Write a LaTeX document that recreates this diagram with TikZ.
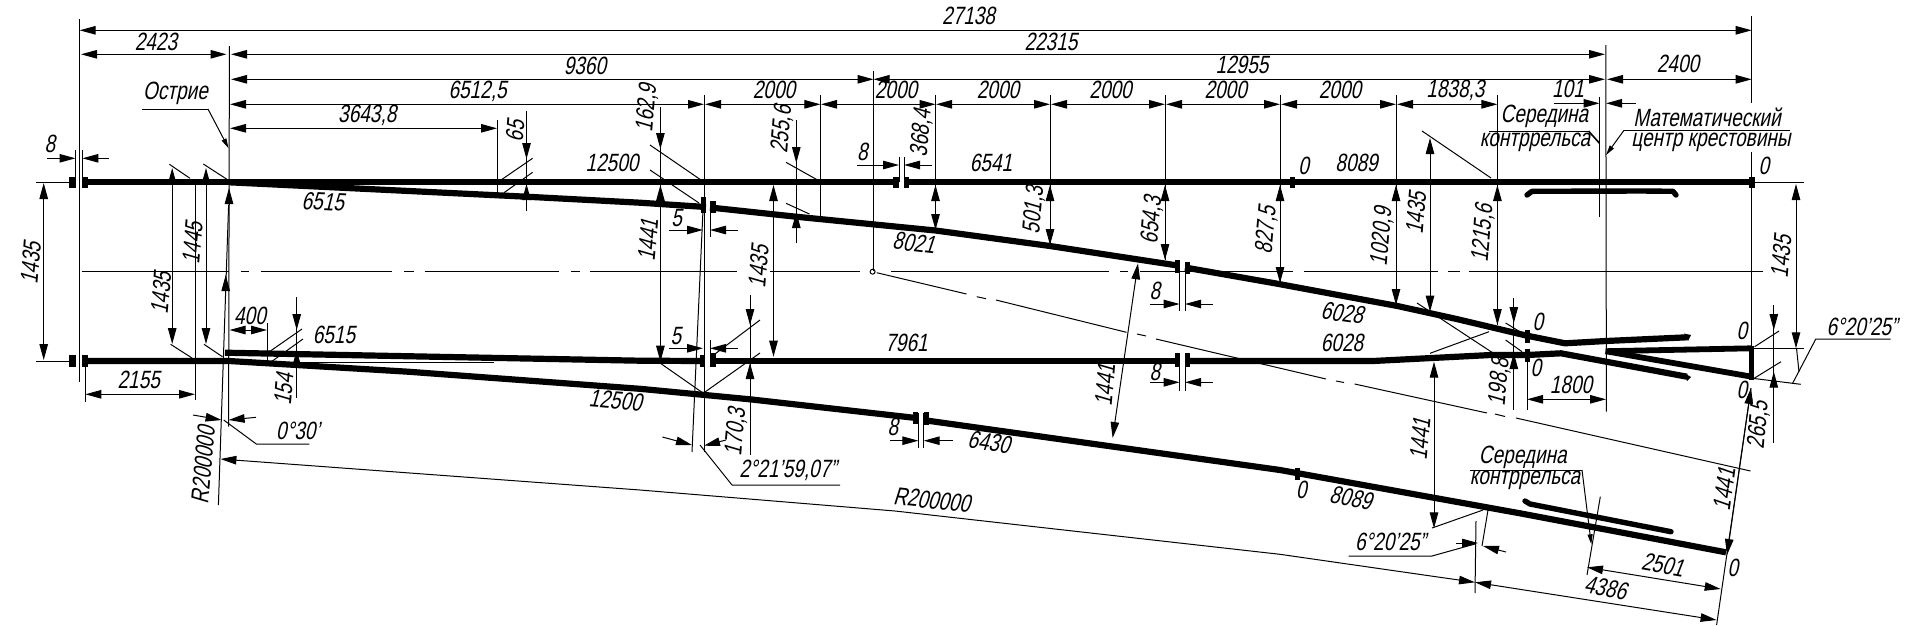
\documentclass[tikz,border=0pt]{standalone}
\usepackage{fontspec}
\setmainfont[FakeSlant=0.2,FakeStretch=0.76]{Liberation Sans}
\usetikzlibrary{arrows.meta}
\tikzset{
  thinl/.style={line width=1pt,black},
  dimb/.style={thinl,{Triangle[length=16pt,width=8.5pt]}-{Triangle[length=16pt,width=8.5pt]}},
  dimr/.style={thinl,-{Triangle[length=16pt,width=8.5pt]}},
  dimtip/.style={thinl,-{Triangle[length=10pt,width=5pt]}},
  rail/.style={line width=6.2pt,black,line join=round},
  guard/.style={line width=5.4pt,black,line join=round,line cap=round},
  lbl/.style={font=\fontsize{25}{27}\selectfont,inner sep=0pt,black},
}
\newcommand\T[4][0]{\node[lbl,rotate=#1] at (#2,#3) {#4};}
\newcommand\B[4]{\fill[black] (#1,#2) rectangle (#3,#4);}
\begin{document}
\begin{tikzpicture}[x=1pt,y=-1pt]
\fill[white] (0,0) rectangle (1915,625);
\useasboundingbox (0,0) rectangle (1915,625);
% ---------- rails
\draw[rail] (88,182.3) -- (899,182.3);
\draw[rail] (904,182.3) -- (1751.7,182.3);
\B{69.4}{176.7}{76}{188.3}\B{82.4}{176.7}{88}{188.3}
\B{893}{176.7}{899}{188.3}\B{904}{176.7}{909}{188.3}
\B{1289.5}{176.7}{1294.5}{188.3}\B{1749}{176.7}{1754.5}{188.3}
% upper diverging
\draw[rail] (229.4,182.3) -- (526.5,196.7) -- (640,202.7) -- (706,207);
\draw[rail] (710,207.5) -- (796,216.7) -- (935.5,230.5) -- (1050,246) -- (1179,265.7);
\draw[rail] (1185,267.5) -- (1275,283.3) -- (1397.4,306) -- (1456.6,319) -- (1527,335.7) -- (1565,343.3) -- (1606,341) -- (1687,337.3);
\fill[black] (1684,333.5) -- (1691,335) -- (1688,341) -- cycle;
\B{701}{197}{706}{213}\B{710}{201}{716}{213}
\B{1174.7}{260}{1179.6}{272.7}\B{1185}{261.7}{1190}{274}
\B{1524.5}{330}{1529.5}{343}
% straight branch
\draw[rail] (225,352.7) -- (640,360.7) -- (704,361);
\draw[rail] (710,361) -- (1179,361);
\draw[rail] (1185,361) -- (1373,361) -- (1491,355) -- (1527,355) -- (1561,353.3) -- (1687,376.7);
\fill[black] (1684,373) -- (1691,377) -- (1687,381) -- cycle;
\B{700.4}{355}{704.5}{367}\B{710}{353}{716}{367}
\B{1174.7}{353}{1179.6}{367}\B{1185}{353}{1190}{367}
\B{1524.5}{349}{1529.5}{362}
% lower rail
\draw[rail] (88,361) -- (229,361) -- (296.7,365) -- (408,371.7) -- (640,388.8) -- (750,399.3) -- (913.5,417.7);
\draw[rail] (927.8,420.7) -- (1280,470) -- (1520,513.3) -- (1726,552.3);
\B{69.4}{355}{76}{367}\B{82.4}{355}{88}{367}
\fill[black] (912.6,412) rectangle (918.4,424);\fill[black] (923.7,412) rectangle (928.6,425);
\B{1295}{468}{1300}{480}
\draw[thinl] (269,362) -- (494,362);
% frog
\draw[line width=5.8pt,black] (1605.6,351.2) -- (1751.7,348.3);
\draw[line width=5.8pt,black] (1605.6,351.2) -- (1751.7,376.7);
\draw[line width=4.6pt,black] (1751.7,345.5) -- (1751.7,379.5);
% guards
\draw[guard] (1527,195) -- (1532,191.3) -- (1642,191) -- (1673,191.3) -- (1676,195);
\draw[guard] (1525,501) -- (1530,504) -- (1671,531.7);
% ---------- centre lines
\foreach \a/\b in {81.6/229,241/249,261/392,404/414,424.5/559,571/580,590/737,770/860,891/1109,1120/1128,1140/1280,1283/1293,1303.6/1438,1448/1460,1469/1763}
  \draw[thinl] (\a,271) -- (\b,271);
\draw[thinl] (872.6,271.7) circle (2.5);
\draw[thinl] (873.5,71) -- (873.5,271);
\draw[thinl] (876.7,272.7) -- (966.5,294);
\draw[thinl] (976.7,296.7) -- (986,298.7);
\draw[thinl] (996,300) -- (1126.5,332.3);
\draw[thinl] (1137,334) -- (1146,336);
\draw[thinl] (1156,339) -- (1326,379);
\draw[thinl] (1336,381) -- (1344,382.5);
\draw[thinl] (1354.6,384) -- (1487,413);
\draw[thinl] (1495,414) -- (1505,416.5);
\draw[thinl] (1516,418) -- (1750.5,471);
% ---------- extension lines
\draw[thinl] (79.6,19) -- (79.6,382);
\draw[thinl] (229.4,46) -- (228.6,426.7);
\draw[thinl] (1751.7,16) -- (1751.7,103);
\draw[thinl] (1751.7,152) -- (1751.7,358);
\draw[thinl] (1605.8,45) -- (1606.4,411.7);
\draw[thinl] (704,95) -- (704,452);
\draw[thinl] (703,210) -- (692,452);
\draw[thinl] (820.4,95) -- (820.4,217);
\draw[thinl] (935.5,95) -- (935.5,231);
\draw[thinl] (1050,95) -- (1050,246);
\draw[thinl] (1165,95) -- (1165,260);
\draw[thinl] (1280,95) -- (1280,283);
\draw[thinl] (1396,95) -- (1396,305);
\draw[thinl] (1497.4,95) -- (1497.4,325);
\draw[thinl] (75.5,150) -- (75.5,182);
\draw[thinl] (82.4,150) -- (82.4,182);
\draw[thinl] (899,157) -- (899,182);
\draw[thinl] (904,157) -- (904,182);
\draw[thinl] (497,120) -- (497,195);
\draw[thinl] (195,184) -- (195,400);
\draw[thinl] (85.3,361) -- (85.3,401.7);
\draw[thinl] (267.3,323) -- (267.3,361.7);
\draw[thinl] (35.5,182.3) -- (69,182.3);
\draw[thinl] (35.5,361) -- (69,361);
\draw[thinl] (1752,182.3) -- (1803.6,182.3);
\draw[thinl] (1752,348.3) -- (1803.6,348.3);
\draw[thinl] (1599.5,96.7) -- (1599.5,216.7);
\draw[thinl] (1527,362) -- (1527,410);
\draw[thinl] (1752.6,378.3) -- (1800.7,384.3);
\draw[thinl] (710,210) -- (710,237);
\draw[thinl] (710,340) -- (710,361);
\draw[thinl] (918.4,413) -- (918.4,448);
\draw[thinl] (923.7,413) -- (923.7,448);
\draw[thinl] (1179.6,268) -- (1179.6,310.7);
\draw[thinl] (1185,268) -- (1185,310.7);
\draw[thinl] (1179.6,353) -- (1179.6,390.7);
\draw[thinl] (1185,353) -- (1185,390.7);
% radial lines
\draw[thinl] (228.6,205) -- (218.4,505);
\draw[thinl] (1488,510) -- (1482,546);
\draw[thinl] (1476,521) -- (1475,593);
\draw[thinl] (1600.3,496.7) -- (1587,575);
\draw[thinl] (1751,388) -- (1716.6,625);
% ---------- horizontal dimensions
\draw[dimb] (79.6,30.3) -- (1751.7,30.3);
\draw[dimb] (81,54.3) -- (226.5,54.3);
\draw[dimb] (231,54.3) -- (1605,54.3);
\draw[dimb] (231,79.3) -- (873.5,79.3);
\draw[dimb] (873.5,79.3) -- (1605,79.3);
\draw[dimb] (1607,79.3) -- (1751.7,79.3);
\draw[dimb] (230,104.3) -- (704,104.3);
\draw[dimb] (705,104.3) -- (820.4,104.3);
\draw[dimb] (821,104.3) -- (935.5,104.3);
\draw[dimb] (936,104.3) -- (1050,104.3);
\draw[dimb] (1051,104.3) -- (1165,104.3);
\draw[dimb] (1166,104.3) -- (1280,104.3);
\draw[dimb] (1281,104.3) -- (1396,104.3);
\draw[dimb] (1397,104.3) -- (1497.4,104.3);
\draw[dimb] (230,128.3) -- (497,128.3);
\draw[dimr] (47,158.3) -- (75.5,158.3);
\draw[dimr] (109,158.3) -- (82.4,158.3);
\draw[dimr] (857,165) -- (899,165);
\draw[dimr] (932,165) -- (904,165);
\draw[dimr] (1553.8,103.3) -- (1599.5,103.3);
\draw[dimr] (1636,103.3) -- (1606,103.3);
\draw[dimb] (85.3,394.3) -- (195,394.3);
\draw[dimb] (229.5,330) -- (267,330);
\draw[dimr] (668.6,230) -- (703,230);
\draw[dimr] (738,230) -- (710,230);
\draw[dimr] (668.6,348.3) -- (703,348.3);
\draw[dimr] (738,348.3) -- (710,348.3);
\draw[dimr] (890,440.7) -- (918.4,440.7);
\draw[dimr] (953,440.7) -- (923.7,440.7);
\draw[dimr] (1150,304) -- (1179.6,304);
\draw[dimr] (1212.7,304) -- (1185,304);
\draw[dimr] (1150,382.3) -- (1179.6,382.3);
\draw[dimr] (1212.7,382.3) -- (1185,382.3);
\draw[dimb] (1527,399.3) -- (1606,399.3);
\draw[dimr] (193,415) -- (221.6,420);
\draw[dimr] (256,417.3) -- (228.6,420);
\draw[dimr] (662.4,437) -- (692,445);
\draw[dimr] (726,440) -- (704,445.7);
% ---------- vertical dimensions
\draw[dimb] (43.7,183) -- (43.7,360);
\draw[dimb] (172.2,168) -- (172.2,344);
\draw[dimb] (206,168) -- (206,344);
\draw[dimb] (935.5,185) -- (935.5,230);
\draw[dimb] (1050,185) -- (1050,245);
\draw[dimb] (1165,185) -- (1165,260);
\draw[dimb] (1280,185) -- (1280,283);
\draw[dimb] (1396,185) -- (1396,305);
\draw[dimb] (1430,138) -- (1430,311.7);
\draw[dimb] (1497.4,185) -- (1497.4,325);
\draw[dimb] (773.5,185) -- (773.5,356.7);
\draw[dimb] (1796,184) -- (1796,348.3);
\draw[dimb] (1434,361.7) -- (1434,528.3);
\draw[dimb] (1138,263.3) -- (1112.6,438);
\draw[dimb] (1751,388) -- (1727,555);
% arrow pairs with overshooting lines
\draw[thinl] (660.4,107) -- (660.4,361.7);
\draw[dimr] (660.4,133) -- (660.4,149);
\draw[dimr] (660.4,200) -- (660.4,185);
\draw[dimr] (660.4,345) -- (660.4,361.7);
\draw[thinl] (750,295) -- (750,455);
\draw[dimr] (750,308) -- (750,325);
\draw[dimr] (750,379) -- (750,363);
\draw[thinl] (796.3,120) -- (796.3,243);
\draw[dimr] (796.3,147) -- (796.3,163);
\draw[dimr] (796.3,228) -- (796.3,212);
\draw[thinl] (526.5,111) -- (526.5,210.7);
\draw[dimr] (526.5,143) -- (526.5,159);
\draw[dimr] (526.5,199) -- (526.5,184);
\draw[thinl] (296.7,297) -- (296.7,398);
\draw[dimr] (296.7,314) -- (296.7,330);
\draw[dimr] (296.7,367) -- (296.7,350);
\draw[thinl] (1513.8,298) -- (1513.8,410);
\draw[dimr] (1513.8,307) -- (1513.8,323);
\draw[dimr] (1513.8,369) -- (1513.8,353);
\draw[thinl] (1773.8,305) -- (1773.8,443);
\draw[dimr] (1773.8,314) -- (1773.8,330);
\draw[dimr] (1773.8,388) -- (1773.8,371.7);
\draw[dimr] (229,205) -- (229,188);
\draw[dimr] (225.7,292) -- (225.7,275);
% long aligned dimensions
\draw[thinl,{Triangle[length=16pt,width=8.5pt]}-] (220.4,459) -- (640,490) -- (895,511) -- (1280,554.3) -- (1440,577.3);
\draw[dimr] (1440,577.3) -- (1475,582.3);
\draw[dimb] (1475,582.3) -- (1716.6,620);
\draw[dimb] (1587,567.3) -- (1720.7,589);
% angle marks lower right
\draw[dimr] (1456,543) -- (1478,543);
\draw[dimr] (1506,552) -- (1483,546);
\draw[thinl] (1796.5,348) -- (1799,372);
% ---------- oblique leaders
\draw[thinl] (169.4,164.3) -- (190,178.3);
\draw[thinl] (170.6,344.3) -- (192,358);
\draw[thinl] (203.3,164) -- (226.5,179);
\draw[thinl] (204,344.3) -- (222.4,356.7);
\draw[thinl] (501,180) -- (532.6,158.3);
\draw[thinl] (504,192.7) -- (532.6,172.3);
\draw[thinl] (269.4,351.7) -- (302,329);
\draw[thinl] (271.4,361.7) -- (303,339);
\draw[thinl] (650,145) -- (701,180);
\draw[thinl] (650,170) -- (699,203);
\draw[thinl] (660,363) -- (703,393);
\draw[thinl] (705,392) -- (760,353);
\draw[thinl] (711,357) -- (760,320);
\draw[thinl] (786,162.3) -- (816.3,179.3);
\draw[thinl] (786,203.3) -- (809.4,214);
\draw[thinl] (1422,131) -- (1491,178);
\draw[thinl] (1417,303) -- (1493,353);
\draw[thinl] (1505.6,323) -- (1522,333);
\draw[thinl] (1505.6,340) -- (1522,351.7);
\draw[thinl] (1754.6,346.7) -- (1779,331);
\draw[thinl] (1754.6,378) -- (1781,361.7);
\draw[thinl] (1430,353.3) -- (1489,331.7);
\draw[thinl] (1432,528) -- (1483,510);
% ---------- shelf leaders
\draw[thinl] (142,109) -- (208,109);
\draw[dimtip] (208,109) -- (228.6,148.3);
\draw[thinl] (223.7,420) -- (256.3,444) -- (309.4,444);
\draw[thinl] (700,445) -- (732,485) -- (840,485);
\draw[thinl] (1489,131) -- (1588.5,131);
\draw[line width=1.6pt,black] (1588.5,131) -- (1599.5,143.3);
\draw[thinl] (1790,130.3) -- (1624,130.3);
\draw[dimtip] (1624,130.3) -- (1606,155);
\draw[thinl] (1470,470) -- (1582,470);
\draw[dimtip] (1582,470) -- (1591.3,544.3);
\draw[thinl] (1890.5,339) -- (1815.8,339) -- (1792.6,383.3);
\draw[thinl] (1348.5,556) -- (1432,556) -- (1475,544);
% ---------- labels
\T{968.6}{16}{27138}
\T{156}{42}{2423}
\T{1051}{41.7}{22315}
\T{585}{65.7}{9360}
\T{1242}{65}{12955}
\T{1678}{64.3}{2400}
\T{477.6}{91}{6512,5}
\T{774}{90}{2000}
\T{896}{90}{2000}
\T{998}{90}{2000}
\T{1110.6}{90}{2000}
\T{1225.7}{90}{2000}
\T{1340}{90}{2000}
\T{1455.4}{90}{1838,3}
\T{367.3}{115.7}{3643,8}
\T{1568}{89.3}{101}
\T{175.5}{93.3}{Острие}
\T{1544.4}{116.7}{Середина}
\T{1535}{142}{контррельса}
\T{1707}{117.3}{Математический}
\T{1711}{142}{центр крестовины}
\T{50}{144}{8}
\T{862.4}{151.7}{8}
\T{612}{162.7}{12500}
\T{991}{162.7}{6541}
\T{1303.6}{166}{0}
\T{1356.6}{163}{8089}
\T{1764}{165.7}{0}
\T[-3]{323}{201.7}{6515}
\T[-7]{914}{243}{8021}
\T[-8]{1342.3}{313}{6028}
\T{1342}{343.3}{6028}
\T{906.5}{343.3}{7961}
\T{334}{335}{6515}
\T{250}{316}{400}
\T{676.7}{218.3}{5}
\T{676}{336}{5}
\T{1155}{290.7}{8}
\T{1155}{371.7}{8}
\T{1538}{321.7}{0}
\T{1536}{368.3}{0}
\T{1742}{331}{0}
\T{1742}{390}{0}
\T{1571}{385}{1800}
\T{138.8}{380}{2155}
\T{298}{431}{0°30'}
\T[-5]{615.5}{400.7}{12500}
\T[-8]{989}{442.3}{6430}
\T{893}{426.7}{8}
\T{788}{470.7}{2°21'59,07''}
\T[-6]{932}{500}{R200000}
\T{1301.5}{490}{0}
\T[-10]{1351}{497.7}{8089}
\T{1522.8}{457.7}{Середина}
\T{1525}{480}{контррельса}
\T{1390.5}{542}{6°20'25''}
\T{1862}{326.7}{6°20'25''}
\T[-10]{1662.8}{565}{2501}
\T[-10]{1605.6}{588}{4386}
\T{1733}{568.3}{0}
\T[85]{30.6}{263}{1435}
\T[85]{161}{293}{1435}
\T[85]{192.6}{243}{1445}
\T[85]{515}{131}{65}
\T[85]{647}{108}{162,9}
\T[85]{648}{240}{1441}
\T[85]{782}{129.3}{255,6}
\T[85]{921.6}{133}{368,4}
\T[85]{758.4}{266.7}{1435}
\T[85]{1034}{210}{501,3}
\T[85]{1152}{220}{654,3}
\T[85]{1266.5}{230}{827,5}
\T[85]{1382}{236.7}{1020,9}
\T[85]{1415.8}{213}{1435}
\T[85]{1483}{233}{1215,6}
\T[85]{1781}{256.7}{1435}
\T[85]{1499.5}{381.7}{198,8}
\T[85]{1758.7}{425}{265,5}
\T[85]{283.7}{389}{154}
\T[85]{736}{431.7}{170,3}
\T[85]{1105}{385}{1441}
\T[85]{1420}{439}{1441}
\T[82]{1724}{489}{1441}
\T[85]{203}{465}{R200000}
\end{tikzpicture}
\end{document}
